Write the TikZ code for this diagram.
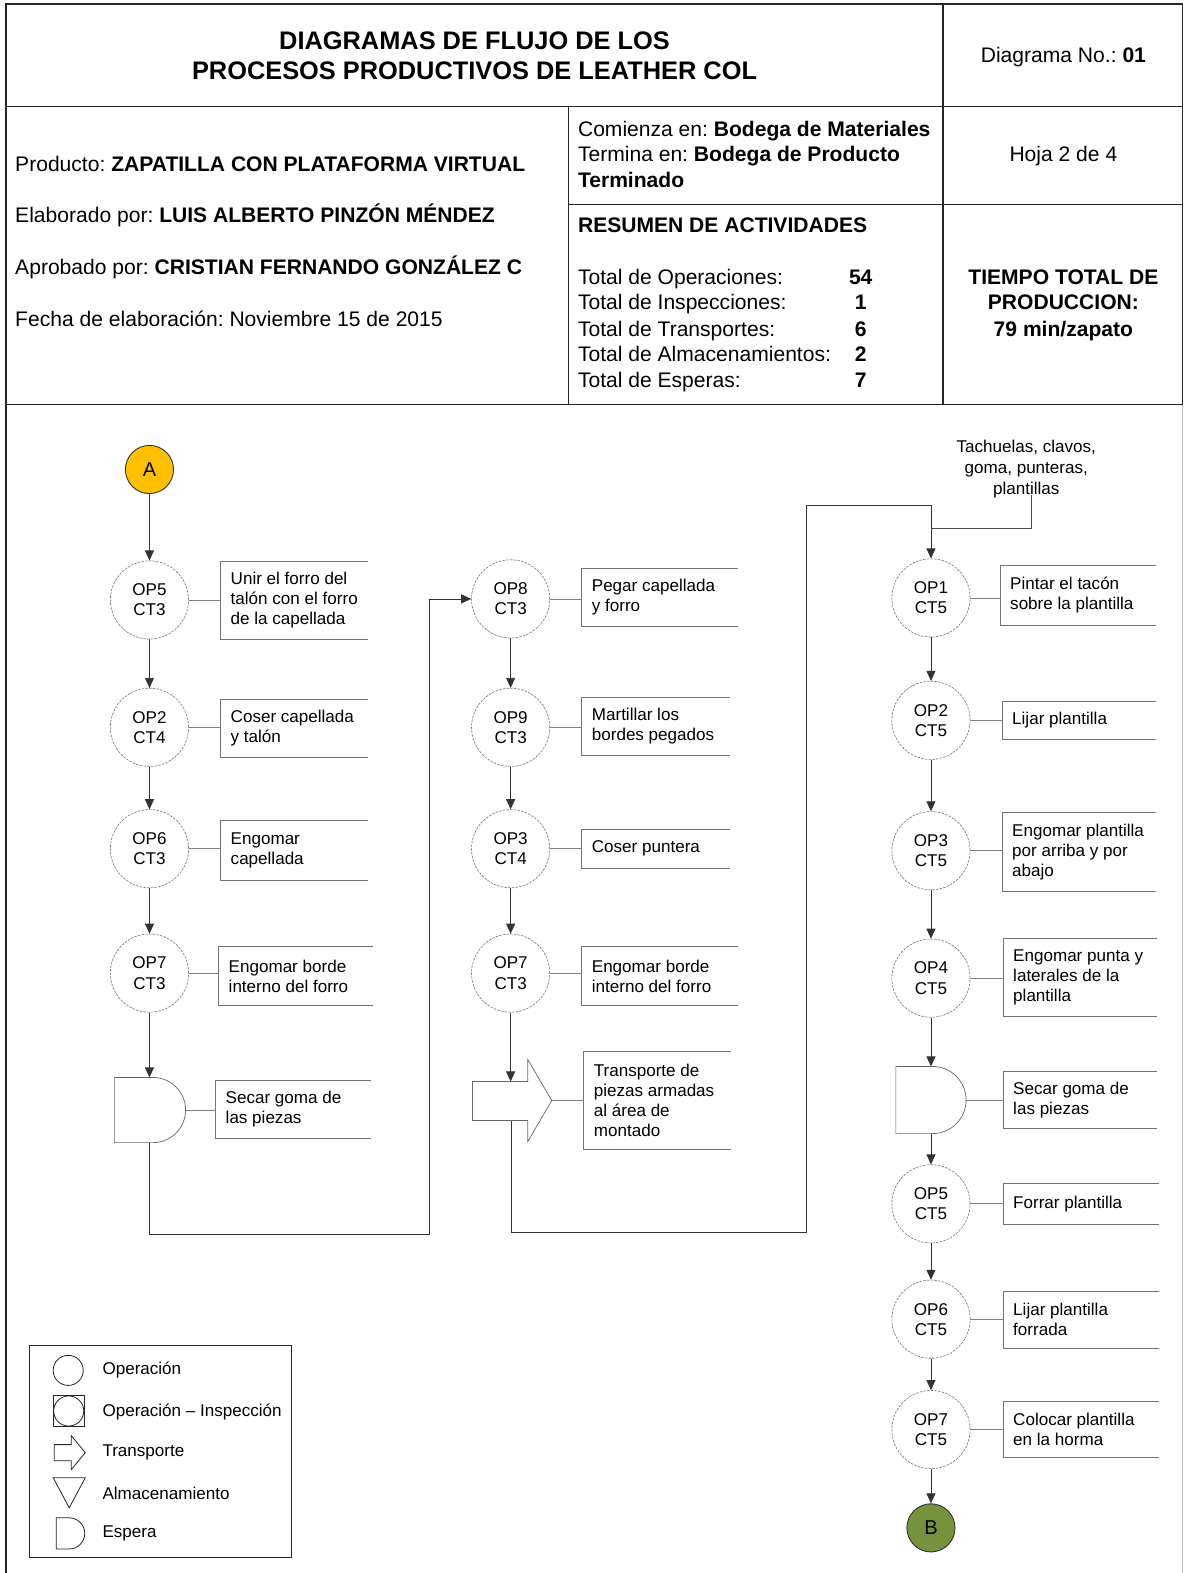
\documentclass[tikz,border=0pt]{standalone}
\usepackage{fontspec}
\setmainfont{Liberation Sans}
\usetikzlibrary{arrows.meta,calc}
\frenchspacing
\definecolor{startgold}{HTML}{FFC000}
\definecolor{endgreen}{HTML}{76923C}
\newcommand{\hdfont}{\fontsize{21}{25.5}\selectfont}
\newcommand{\ttlfont}{\fontsize{25.3}{30}\selectfont\bfseries}
\newcommand{\chfont}{\fontsize{17}{20}\selectfont}

% open-ended annotation box: name, left x, top y, right x, bottom y, text
\newcommand{\notebox}[6]{%
  \pgfmathsetmacro{\nbw}{#4-#2}%
  \pgfmathsetmacro{\nbh}{#5-#3}%
  \pgfmathsetmacro{\nbx}{(#2+#4)/2}%
  \pgfmathsetmacro{\nby}{(#3+#5)/2}%
  \node[notebox,minimum width=\nbw pt,minimum height=\nbh pt] (#1) at (\nbx,\nby) {};%
  \draw[notebrd] (#1.north east) -- (#1.north west) -- (#1.south west) -- (#1.south east);%
  \node[notetext] (#1-t) at ([xshift=10pt]#1.west) {#6};%
}

% delay (D-shaped) symbol: name, left x, top y, height, width
\newcommand{\waitshape}[5]{%
  \pgfmathsetmacro{\wr}{#4/2}%
  \pgfmathsetmacro{\wf}{#2+#5-#4/2}%
  \pgfmathsetmacro{\wb}{#3+#4}%
  \pgfmathsetmacro{\wm}{#2+35}%
  \pgfmathsetmacro{\wc}{#3+#4/2}%
  \pgfmathsetmacro{\we}{#2+#5}%
  \draw[shapeline] (#2,#3) -- (\wf,#3) arc[start angle=-90,end angle=90,radius=\wr] -- (#2,\wb) -- cycle;%
  \coordinate (#1-in) at (\wm,#3);%
  \coordinate (#1-out) at (\wm,\wb);%
  \coordinate (#1-east) at (\we,\wc);%
}

\begin{document}
\begin{tikzpicture}[x=1pt,y=-1pt,
  every node/.style={inner sep=0pt},
  rule/.style={draw=black!85,line width=1.3pt},
  op/.style={circle,draw=black!55,line width=0.6pt,dash pattern=on 2.5pt off 1.2pt,
    minimum size=78pt,inner sep=0pt,align=center,font=\chfont},
  term/.style={circle,draw=black!80,line width=0.9pt,minimum size=48pt,
    font=\fontsize{20}{24}\selectfont},
  flow/.style={draw=black!80,line width=0.8pt,-{Triangle[width=9pt,length=10pt]}},
  route/.style={draw=black!70,line width=0.8pt},
  tie/.style={draw=black!50,line width=0.7pt},
  shapeline/.style={draw=black!60,line width=0.7pt},
  legline/.style={draw=black!85,line width=0.8pt},
  notebox/.style={rectangle,draw=none,inner sep=0pt},
  notebrd/.style={draw=black!55,line width=0.8pt},
  notetext/.style={anchor=west,align=left,font=\chfont,inner sep=0pt},
  hd/.style={anchor=base west,font=\hdfont,inner sep=0pt},
  hdc/.style={anchor=base,font=\hdfont,inner sep=0pt},
  legtext/.style={anchor=west,font=\chfont,inner sep=0pt},
]
\useasboundingbox (0,0) rectangle (1180,1568);
\fill[white] (0,0) rectangle (1180,1568);

% ---------- header table ----------
\draw[rule] (6,1568) -- (6,4) -- (1179,4) -- (1179,403);
\draw[draw=black!25,line width=0.8pt] (1179,403) -- (1179,1568);
\draw[rule] (6,106) -- (1179,106);
\draw[rule] (940,4) -- (940,403);
\draw[rule] (567,106) -- (567,403);
\draw[rule] (567,204) -- (1179,204);
\draw[rule] (6,403) -- (1179,403);

\node[anchor=base,font=\ttlfont] (title1) at (473,49) {DIAGRAMAS DE FLUJO DE LOS};
\node[anchor=base,font=\ttlfont] (title2) at (473,79) {PROCESOS PRODUCTIVOS DE LEATHER COL};
\node[hdc] (dgno) at (1060,62) {Diagrama No.: \textbf{01}};

\node[hd] (prod)  at (15,171) {Producto: \textbf{ZAPATILLA CON PLATAFORMA VIRTUAL}};
\node[hd] (elab)  at (15,222) {Elaborado por: \textbf{LUIS ALBERTO PINZÓN MÉNDEZ}};
\node[hd] (aprob) at (15,274) {Aprobado por: \textbf{CRISTIAN FERNANDO GONZÁLEZ C}};
\node[hd] (fecha) at (15,325) {Fecha de elaboración: Noviembre 15 de 2015};

\node[hd] (start) at (576,136) {Comienza en: \textbf{Bodega de Materiales}};
\node[hd] (end1)  at (576,161) {Termina en: \textbf{Bodega de Producto}};
\node[hd] (end2)  at (576,187) {\textbf{Terminado}};
\node[hd] (res)   at (576,232) {\textbf{RESUMEN DE ACTIVIDADES}};

\node[hd] (t1) at (576,284) {Total de Operaciones:};
\node[hd] (t2) at (576,309) {Total de Inspecciones:};
\node[hd] (t3) at (576,335) {Total de Transportes:};
\node[hd] (t4) at (576,360) {Total de Almacenamientos:};
\node[hd] (t5) at (576,386) {Total de Esperas:};
\node[hdc] (v1) at (858,284) {\textbf{54}};
\node[hdc] (v2) at (858,309) {\textbf{1}};
\node[hdc] (v3) at (858,335) {\textbf{6}};
\node[hdc] (v4) at (858,360) {\textbf{2}};
\node[hdc] (v5) at (858,386) {\textbf{7}};

\node[hdc] (hoja) at (1060,161) {Hoja 2 de 4};
\node[hdc] (tt1) at (1060,284) {\textbf{TIEMPO TOTAL DE}};
\node[hdc] (tt2) at (1060,309) {\textbf{PRODUCCION:}};
\node[hdc] (tt3) at (1060,335) {\textbf{79 min/zapato}};

% ---------- first column ----------
\node[term,fill=startgold] (A) at (149,468) {A};
\node[op] (a1) at (149,598) {OP5\\CT3};
\node[op] (a2) at (149,725) {OP2\\CT4};
\node[op] (a3) at (149,846) {OP6\\CT3};
\node[op] (a4) at (149,970) {OP7\\CT3};
\waitshape{E1}{114}{1074}{65}{71}

\notebox{n1a}{220}{560}{367}{637}{Unir el forro del\\talón con el forro\\de la capellada}
\notebox{n2a}{220}{697}{367}{755}{Coser capellada\\y talón}
\notebox{n3a}{220}{818}{367}{877}{Engomar\\capellada}
\notebox{n4a}{218}{944}{372}{1002}{Engomar borde\\interno del forro}
\notebox{n5a}{215}{1077}{370}{1135}{Secar goma de\\las piezas}

\draw[flow] (A.south) -- (a1.north);
\draw[flow] (a1.south) -- (a2.north);
\draw[flow] (a2.south) -- (a3.north);
\draw[flow] (a3.south) -- (a4.north);
\draw[flow] (a4.south) -- (a4.south |- E1-in);
\draw[tie] (a1.east) -- (a1.east -| n1a.west);
\draw[tie] (a2.east) -- (a2.east -| n2a.west);
\draw[tie] (a3.east) -- (a3.east -| n3a.west);
\draw[tie] (a4.east) -- (a4.east -| n4a.west);
\draw[tie] (E1-east) -- (E1-east -| n5a.west);

% ---------- second column ----------
\node[op] (b1) at (509,597) {OP8\\CT3};
\node[op] (b2) at (509,725) {OP9\\CT3};
\node[op] (b3) at (509,846) {OP3\\CT4};
\node[op] (b4) at (509,970) {OP7\\CT3};
% transport arrow
\draw[shapeline] (471,1078) -- (526,1078) -- (526,1056) -- (550,1097)
  -- (526,1138) -- (526,1117) -- (471,1117) -- cycle;
\coordinate (T-in) at (509,1078);
\coordinate (T-out) at (510,1117);
\coordinate (T-tip) at (550,1097);

\notebox{n1b}{580}{567}{735}{624}{Pegar capellada\\y forro}
\notebox{n2b}{580}{695}{727}{753}{Martillar los\\bordes pegados}
\notebox{n3b}{580}{827}{727}{865}{Coser puntera}
\notebox{n4b}{580}{944}{735}{1002}{Engomar borde\\interno del forro}
\notebox{n5b}{582}{1048}{728}{1146}{Transporte de\\piezas armadas\\al área de\\montado}

\draw[flow] (b1.south) -- (b2.north);
\draw[flow] (b2.south) -- (b3.north);
\draw[flow] (b3.south) -- (b4.north);
\draw[flow] (b4.south) -- (b4.south |- T-in);
\draw[tie] (b1.east) -- (b1.east -| n1b.west);
\draw[tie] (b2.east) -- (b2.east -| n2b.west);
\draw[tie] (b3.east) -- (b3.east -| n3b.west);
\draw[tie] (b4.east) -- (b4.east -| n4b.west);
\draw[tie] (T-tip) -- (T-tip -| n5b.west);

% ---------- third column ----------
\node[align=center,font=\fontsize{17}{21}\selectfont] (mat) at (1023,468)
  {Tachuelas, clavos,\\goma, punteras,\\plantillas};
\node[op] (c1) at (928,596) {OP1\\CT5};
\node[op] (c2) at (928,718) {OP2\\CT5};
\node[op] (c3) at (928,848) {OP3\\CT5};
\node[op] (c4) at (928,975) {OP4\\CT5};
\waitshape{E2}{893}{1063}{67}{70}
\node[op] (c5) at (928,1200) {OP5\\CT5};
\node[op] (c6) at (928,1315) {OP6\\CT5};
\node[op] (c7) at (928,1425) {OP7\\CT5};
\node[term,fill=endgreen] (B) at (928,1523) {B};

\notebox{n1c}{997}{564}{1152}{623}{Pintar el tacón\\sobre la plantilla}
\notebox{n2c}{999}{699}{1152}{737}{Lijar plantilla}
\notebox{n3c}{999}{810}{1152}{888}{Engomar plantilla\\por arriba y por\\abajo}
\notebox{n4c}{1000}{936}{1153}{1013}{Engomar punta y\\laterales de la\\plantilla}
\notebox{n5c}{1000}{1068}{1153}{1125}{Secar goma de\\las piezas}
\notebox{n6c}{1000}{1180}{1155}{1220}{Forrar plantilla}
\notebox{n7c}{1000}{1287}{1155}{1344}{Lijar plantilla\\forrada}
\notebox{n8c}{1000}{1397}{1155}{1453}{Colocar plantilla\\en la horma}

\draw[flow] (c1.south) -- (c2.north);
\draw[flow] (c2.south) -- (c3.north);
\draw[flow] (c3.south) -- (c4.north);
\draw[flow] (c4.south) -- (c4.south |- E2-in);
\draw[flow] (c4.south |- E2-out) -- (c5.north);
\draw[flow] (c5.south) -- (c6.north);
\draw[flow] (c6.south) -- (c7.north);
\draw[flow] (c7.south) -- (B.north);
\draw[tie] (c1.east) -- (c1.east -| n1c.west);
\draw[tie] (c2.east) -- (c2.east -| n2c.west);
\draw[tie] (c3.east) -- (c3.east -| n3c.west);
\draw[tie] (c4.east) -- (c4.east -| n4c.west);
\draw[tie] (E2-east) -- (E2-east -| n5c.west);
\draw[tie] (c5.east) -- (c5.east -| n6c.west);
\draw[tie] (c6.east) -- (c6.east -| n7c.west);
\draw[tie] (c7.east) -- (c7.east -| n8c.west);

% ---------- routes between columns ----------
\coordinate (r1a) at (149,1230);
\coordinate (r1b) at (428,1230);
\coordinate (r1c) at (428,597);
\draw[flow] (a4.south |- E1-out) -- (r1a) -- (r1b) -- (r1c) -- (b1.west);

\coordinate (r2a) at (510,1228);
\coordinate (r2b) at (804,1228);
\coordinate (r2c) at (804,504);
\coordinate (r2d) at (928,504);
\draw[flow] (T-out) -- (r2a) -- (r2b) -- (r2c) -- (r2d) -- (c1.north);

\coordinate (j3) at (928,527);
\draw[route] ($(mat.south)+(5,-4)$) |- (j3);

% ---------- legend ----------
\draw[legline] (29,1341) rectangle (290,1552);
\draw[legline] (68,1366) circle[radius=15];
\draw[legline] (53,1391) rectangle (84,1422);
\draw[legline] (68.5,1406.5) circle[radius=15];
\draw[legline] (54,1440) -- (71,1440) -- (71,1431) -- (85,1448) -- (71,1465)
  -- (71,1456) -- (54,1456) -- cycle;
\draw[legline] (53,1473) -- (85,1473) -- (69,1503) -- cycle;
\draw[legline] (56,1513) -- (69,1513) arc[start angle=-90,end angle=90,radius=15.5]
  -- (56,1544) -- cycle;
\node[legtext] (l1) at (102,1366) {Operación};
\node[legtext] (l2) at (102,1407) {Operación – Inspección};
\node[legtext] (l3) at (102,1448) {Transporte};
\node[legtext] (l4) at (102,1489) {Almacenamiento};
\node[legtext] (l5) at (102,1529) {Espera};
\end{tikzpicture}
\end{document}
